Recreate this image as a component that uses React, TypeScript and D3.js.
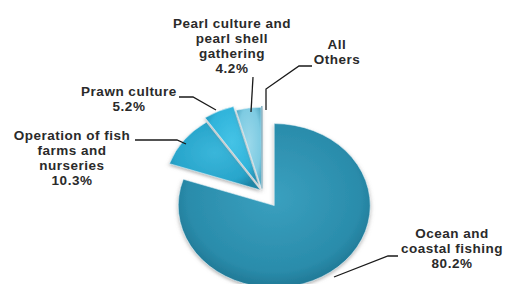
import React from "react";
import * as d3 from "d3";

const categories = [
  "Ocean and coastal fishing",
  "Operation of fish farms and nurseries",
  "Prawn culture",
  "Pearl culture and pearl shell gathering",
  "All Others",
];
const values = [80.2, 10.3, 5.2, 4.2, 0.1];
const labelLines = [
  ["Ocean and", "coastal fishing", "80.2%"],
  ["Operation of fish", "farms and", "nurseries", "10.3%"],
  ["Prawn culture", "5.2%"],
  ["Pearl culture and", "pearl shell", "gathering", "4.2%"],
  ["All", "Others"],
];
const explode = [21, 2, 7, 2, 3];
const baseColors = ["#2a8cab", "#28a5cb", "#2fb3da", "#7ecbe2", "#c4e6f1"];
const darkColors = ["#1c6f8b", "#1d86a8", "#2296bb", "#5aaec8", "#98cadb"];
const lightColors = ["#3aa0bf", "#3ab6da", "#45c3e6", "#9ad8ea", "#dbf1f8"];

// label layout: [centerX, firstBaseline]
const labelPos: [number, number][] = [
  [452, 238],
  [72, 140],
  [129, 96],
  [232, 28],
  [337, 49],
];
// leader polylines
const leaders: [number, number][][] = [
  [[398, 256], [388, 256], [334, 277]],
  [[135, 140], [177, 140], [186, 144]],
  [[179, 97], [193, 97], [216, 110]],
  [[253, 77], [251, 112]],
  [[312, 66], [299, 66], [266, 89], [266, 110]],
];

export default function App() {
  const W = 505, H = 284;
  const cx = 262, cy = 191, rx = 96, ry = 82;
  const pie = d3.pie<number>().sort(null).value((d) => d);
  const arcs = pie(values);
  const arc = d3.arc<d3.PieArcDatum<number>>().innerRadius(0).outerRadius(rx);
  const sy = ry / rx;

  return (
    <svg width={W} height={H} style={{ position: "absolute", left: 0, top: 0, background: "#fff" }}
      fontFamily="'Liberation Sans', Arial, sans-serif">
      <defs>
        <filter id="sh" x="-20%" y="-20%" width="140%" height="140%">
          <feDropShadow dx="0" dy="2" stdDeviation="2" floodColor="#777" floodOpacity="0.55" />
        </filter>
        {values.map((_, i) => (
          <radialGradient key={i} id={`g${i}`} cx="50%" cy="45%" r="60%">
            <stop offset="0%" stopColor={lightColors[i]} />
            <stop offset="75%" stopColor={baseColors[i]} />
            <stop offset="100%" stopColor={darkColors[i]} />
          </radialGradient>
        ))}
      </defs>
      <g transform={`translate(${cx},${cy}) scale(1,${sy})`}>
        {arcs.map((a, i) => {
          const mid = (a.startAngle + a.endAngle) / 2;
          const dx = Math.sin(mid) * explode[i];
          const dy = -Math.cos(mid) * explode[i];
          return (
            <path key={i} d={arc(a) || ""} transform={`translate(${dx},${dy})`}
              fill={`url(#g${i})`} stroke={i === 4 ? "#8fb8c8" : "#e8f6fb"}
              strokeWidth={i === 4 ? 1.2 : 0.6} filter="url(#sh)">
              <title>{categories[i]}</title>
            </path>
          );
        })}
      </g>
      {leaders.map((pts, i) => (
        <polyline key={i} points={pts.map((p) => p.join(",")).join(" ")}
          fill="none" stroke="#1a1a1a" strokeWidth={1.3} />
      ))}
      {labelLines.map((lines, i) => (
        <text key={i} textAnchor="middle" fontSize={13.5} fontWeight="bold" fill="#2a2a2a"
          letterSpacing={0.5}>
          {lines.map((l, j) => (
            <tspan key={j} x={labelPos[i][0]} y={labelPos[i][1] + j * 15}>{l}</tspan>
          ))}
        </text>
      ))}
    </svg>
  );
}
